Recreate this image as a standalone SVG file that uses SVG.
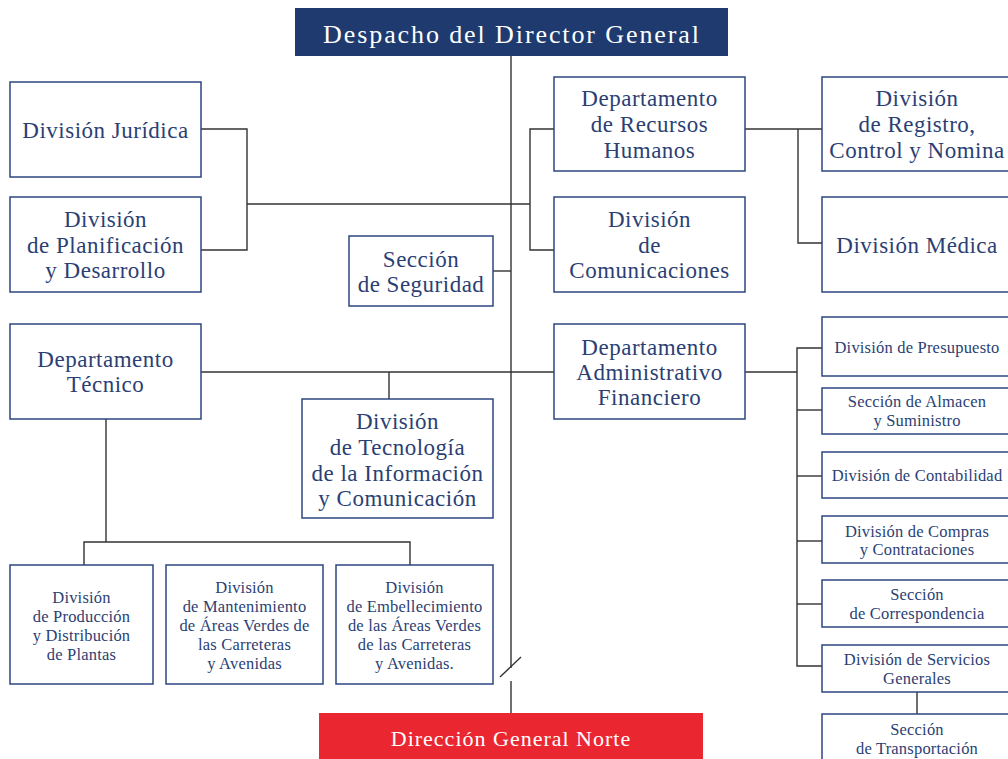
<svg xmlns="http://www.w3.org/2000/svg" width="1008" height="759" viewBox="0 0 1008 759">
<style>
.bx{fill:#fff;stroke:#2c4682;stroke-width:1.5}
.t{font-family:"Liberation Serif",serif;fill:#2b3f74;text-anchor:middle}
.L{font-size:23px;letter-spacing:0.5px}
.S{font-size:16.5px;letter-spacing:0.2px}
.ln{fill:none;stroke:#333;stroke-width:1.4}
</style>
<rect width="1008" height="759" fill="#fff"/>
<g id="connectors" class="ln">
<polyline points="511,56 511,668"/>
<polyline points="511,681 511,714"/>
<line x1="500" y1="677" x2="521" y2="657"/>
<polyline points="201,129 247,129 247,250 201,250"/>
<line x1="247" y1="204" x2="530" y2="204"/>
<polyline points="554,129 530,129 530,250 554,250"/>
<line x1="493" y1="271" x2="511" y2="271"/>
<line x1="201" y1="372" x2="554" y2="372"/>
<line x1="389" y1="372" x2="389" y2="399"/>
<line x1="106" y1="419" x2="106" y2="542"/>
<polyline points="84,565 84,542 410,542 410,565"/>
<line x1="745" y1="129" x2="822" y2="129"/>
<polyline points="798,129 798,243 822,243"/>
<line x1="745" y1="372" x2="797" y2="372"/>
<polyline points="822,348 797,348 797,666 822,666"/>
<line x1="797" y1="410" x2="822" y2="410"/>
<line x1="797" y1="476" x2="822" y2="476"/>
<line x1="797" y1="541" x2="822" y2="541"/>
<line x1="797" y1="604" x2="822" y2="604"/>
<line x1="917" y1="692" x2="917" y2="714"/>
</g>
<g id="despacho">
<rect x="295" y="8" width="433" height="48" fill="#1e3a6f"/>
<text class="t" x="512" y="43" style="font-size:26px;letter-spacing:1.9px;fill:#fff">Despacho del Director General</text>
</g>
<g id="juridica">
<rect class="bx" x="10" y="82" width="191" height="95"/>
<text class="t L" x="105.5" y="138">División Jurídica</text>
</g>
<g id="planificacion">
<rect class="bx" x="10" y="197" width="191" height="95"/>
<text class="t L" x="105.5"><tspan x="105.5" y="227">División</tspan><tspan x="105.5" y="253">de Planificación</tspan><tspan x="105.5" y="278">y Desarrollo</tspan></text>
</g>
<g id="seguridad">
<rect class="bx" x="349" y="236" width="144" height="70"/>
<text class="t L"><tspan x="421" y="267">Sección</tspan><tspan x="421" y="292">de Seguridad</tspan></text>
</g>
<g id="recursos">
<rect class="bx" x="554" y="77" width="191" height="94"/>
<text class="t L"><tspan x="649.5" y="106">Departamento</tspan><tspan x="649.5" y="132">de Recursos</tspan><tspan x="649.5" y="158">Humanos</tspan></text>
</g>
<g id="comunicaciones">
<rect class="bx" x="554" y="197" width="191" height="95"/>
<text class="t L"><tspan x="649.5" y="227">División</tspan><tspan x="649.5" y="253">de</tspan><tspan x="649.5" y="278">Comunicaciones</tspan></text>
</g>
<g id="registro">
<rect class="bx" x="822" y="77" width="190" height="94"/>
<text class="t L"><tspan x="917" y="106">División</tspan><tspan x="917" y="132">de Registro,</tspan><tspan x="917" y="158">Control y Nomina</tspan></text>
</g>
<g id="medica">
<rect class="bx" x="822" y="197" width="190" height="95"/>
<text class="t L" x="917" y="253">División Médica</text>
</g>
<g id="tecnico">
<rect class="bx" x="10" y="324" width="191" height="95"/>
<text class="t L"><tspan x="105.5" y="367">Departamento</tspan><tspan x="105.5" y="392">Técnico</tspan></text>
</g>
<g id="administrativo">
<rect class="bx" x="554" y="324" width="191" height="95"/>
<text class="t L"><tspan x="649.5" y="355">Departamento</tspan><tspan x="649.5" y="380">Administrativo</tspan><tspan x="649.5" y="405">Financiero</tspan></text>
</g>
<g id="tecnologia">
<rect class="bx" x="302" y="399" width="191" height="119"/>
<text class="t L"><tspan x="397.5" y="429">División</tspan><tspan x="397.5" y="455">de Tecnología</tspan><tspan x="397.5" y="481">de la Información</tspan><tspan x="397.5" y="506">y Comunicación</tspan></text>
</g>
<g id="produccion">
<rect class="bx" x="10" y="565" width="143" height="119"/>
<text class="t S"><tspan x="81.5" y="603">División</tspan><tspan x="81.5" y="622">de Producción</tspan><tspan x="81.5" y="641">y Distribución</tspan><tspan x="81.5" y="660">de Plantas</tspan></text>
</g>
<g id="mantenimiento">
<rect class="bx" x="166" y="565" width="157" height="119"/>
<text class="t S"><tspan x="244.5" y="593">División</tspan><tspan x="244.5" y="612">de Mantenimiento</tspan><tspan x="244.5" y="631">de Áreas Verdes de</tspan><tspan x="244.5" y="650">las Carreteras</tspan><tspan x="244.5" y="669">y Avenidas</tspan></text>
</g>
<g id="embellecimiento">
<rect class="bx" x="336" y="565" width="157" height="119"/>
<text class="t S"><tspan x="414.5" y="593">División</tspan><tspan x="414.5" y="612">de Embellecimiento</tspan><tspan x="414.5" y="631">de las Áreas Verdes</tspan><tspan x="414.5" y="650">de las Carreteras</tspan><tspan x="414.5" y="669">y Avenidas.</tspan></text>
</g>
<g id="presupuesto">
<rect class="bx" x="822" y="317" width="190" height="59"/>
<text class="t S" x="917" y="353">División de Presupuesto</text>
</g>
<g id="almacen">
<rect class="bx" x="822" y="388" width="190" height="46"/>
<text class="t S"><tspan x="917" y="407">Sección de Almacen</tspan><tspan x="917" y="426">y Suministro</tspan></text>
</g>
<g id="contabilidad">
<rect class="bx" x="822" y="452" width="190" height="46"/>
<text class="t S" x="917" y="481">División de Contabilidad</text>
</g>
<g id="compras">
<rect class="bx" x="822" y="516" width="190" height="47"/>
<text class="t S"><tspan x="917" y="537">División de Compras</tspan><tspan x="917" y="555">y Contrataciones</tspan></text>
</g>
<g id="correspondencia">
<rect class="bx" x="822" y="580" width="190" height="47"/>
<text class="t S"><tspan x="917" y="600">Sección</tspan><tspan x="917" y="619">de Correspondencia</tspan></text>
</g>
<g id="servicios">
<rect class="bx" x="822" y="645" width="190" height="47"/>
<text class="t S"><tspan x="917" y="665">División de Servicios</tspan><tspan x="917" y="684">Generales</tspan></text>
</g>
<g id="transportacion">
<rect class="bx" x="822" y="714" width="190" height="50"/>
<text class="t S"><tspan x="917" y="735">Sección</tspan><tspan x="917" y="754">de Transportación</tspan></text>
</g>
<g id="norte">
<rect x="319" y="713" width="384" height="50" fill="#ea2631"/>
<text class="t" x="511" y="746" style="font-size:22px;letter-spacing:1px;fill:#fff">Dirección General Norte</text>
</g>
</svg>
